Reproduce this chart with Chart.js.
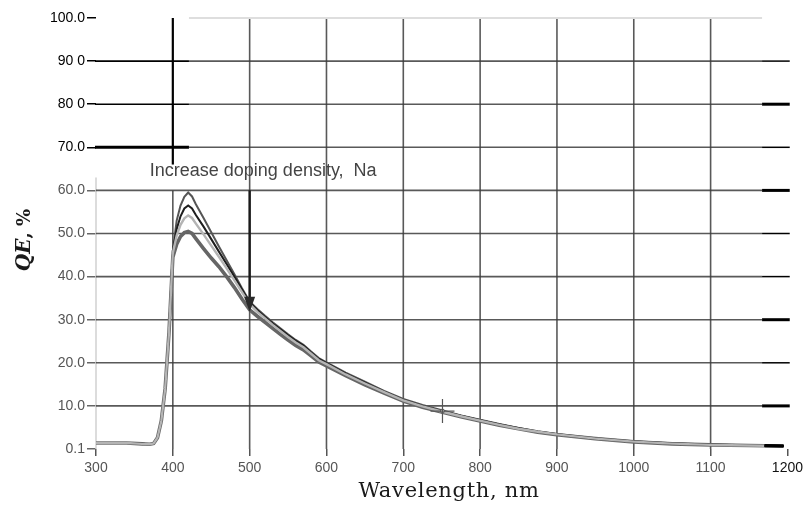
<!DOCTYPE html>
<html>
<head>
<meta charset="utf-8">
<script src="https://cdn.jsdelivr.net/npm/chart.js@4.4.1/dist/chart.umd.min.js"></script>
<style>
  html, body { margin: 0; padding: 0; background: #fff; }
</style>
</head>
<body>
<canvas id="qeChart" width="807" height="506"></canvas>
<script>
// wavelength grid (nm) shared by all QE curves
const wavelength = [300, 320, 340, 360, 370, 375, 380, 385, 390, 395,
  400, 405, 410, 415, 420, 425, 430, 440, 450, 460, 470, 480, 490, 500,
  510, 520, 530, 540, 550, 560, 570, 580, 590, 600,
  625, 650, 675, 700, 725, 750, 775, 800, 825, 850, 875, 900,
  950, 1000, 1050, 1100, 1150, 1170, 1195];

// QE (%) for increasing doping density
const qeLow = [1.4, 1.4, 1.4, 1.2, 1.1, 1.3, 2.6, 6.5, 14, 27,
  46, 53, 56.5, 58.5, 59.5, 58.6, 56.8, 53.6, 50.3, 47, 43.8, 40.6, 37.3, 34.2,
  32.5, 30.9, 29.4, 28.0, 26.6, 25.3, 24.2, 22.6, 21.1, 20.1,
  17.7, 15.6, 13.5, 11.6, 10.2, 9.0, 7.8, 6.8, 5.8, 4.9, 4.1, 3.5,
  2.5, 1.8, 1.35, 1.05, 0.85, 0.75, 0.7];
const qeMid1 = [1.4, 1.4, 1.4, 1.2, 1.1, 1.3, 2.6, 6.5, 14, 27,
  46, 51, 54, 55.8, 56.5, 55.8, 54.3, 51.6, 48.7, 45.8, 42.9, 40, 37, 34,
  32.2, 30.6, 29.1, 27.8, 26.4, 25.1, 24.0, 22.4, 20.9, 19.9,
  17.5, 15.4, 13.3, 11.4, 10.0, 8.8, 7.7, 6.7, 5.7, 4.8, 4.0, 3.4,
  2.4, 1.75, 1.3, 1.0, 0.85, 0.75, 0.7];
const qeMid2 = [1.4, 1.4, 1.4, 1.2, 1.1, 1.3, 2.6, 6.5, 14, 27,
  45.5, 49.5, 52, 53.5, 54.2, 53.6, 52.3, 49.8, 47.2, 44.6, 41.9, 39.2, 36.4, 33.6,
  31.8, 30.3, 28.8, 27.4, 26.0, 24.7, 23.6, 22.1, 20.6, 19.7,
  17.3, 15.2, 13.2, 11.3, 9.9, 8.7, 7.6, 6.6, 5.6, 4.7, 4.0, 3.4,
  2.4, 1.7, 1.25, 0.95, 0.8, 0.75, 0.7];
const qeHigh = [1.4, 1.4, 1.4, 1.2, 1.1, 1.3, 2.6, 6.5, 14, 27,
  44.5, 47.5, 49.3, 50.2, 50.5, 50, 48.8, 46.5, 44.3, 42.3, 40, 37.5, 34.8, 32.3,
  30.8, 29.4, 28.0, 26.6, 25.3, 24.0, 23.0, 21.6, 20.2, 19.3,
  17.0, 14.9, 13.0, 11.1, 9.7, 8.6, 7.5, 6.5, 5.5, 4.7, 3.9, 3.3,
  2.4, 1.65, 1.2, 0.95, 0.8, 0.75, 0.7];

// cursor marker on the curve
const markerX = [751];
const markerY = [8.8];

const xTicks = [300, 400, 500, 600, 700, 800, 900, 1000, 1100, 1200];
const xTickLabels = ['300', '400', '500', '600', '700', '800', '900', '1000', '1100', '1200'];
const yTicks = [0, 10, 20, 30, 40, 50, 60, 70, 80, 90, 100];
const yTickLabels = ['0.1', '10.0', '20.0', '30.0', '40.0', '50.0', '60.0', '70.0', '80 0', '90 0', '100.0'];

const noteText = 'Increase doping density,  Na';

const gridColor = 'rgba(60,60,60,0.85)';
const rightMarkWidths = [0, 3, 1.5, 3, 1.5, 1.5, 3, 1.5, 3, 1.5, 0];
const gridEnd = 1167;
const blockEdge = 421;

function toPoints(vals) {
  return wavelength.map((w, i) => ({ x: w, y: vals[i] }));
}

// past the grid the trace is drawn black
const tailBlack = color => ({
  borderColor: c => (c.p0.parsed.x >= 1170 ? '#000' : color)
});

function seg(ctx, x1, y1, x2, y2, color, width) {
  ctx.strokeStyle = color;
  ctx.lineWidth = width;
  ctx.beginPath();
  ctx.moveTo(x1, y1);
  ctx.lineTo(x2, y2);
  ctx.stroke();
}

const gridPlugin = {
  id: 'qeGrid',
  beforeDatasetsDraw(chart) {
    const { ctx, scales: { x, y } } = chart;
    ctx.save();
    ctx.lineCap = 'butt';

    // vertical lines
    xTicks.forEach(v => {
      if (v === 300 || v === 1200) return;
      const px = x.getPixelForValue(v);
      if (v === 400) {
        seg(ctx, px, y.getPixelForValue(100), px, y.getPixelForValue(66), '#000', 2.2);
        seg(ctx, px, y.getPixelForValue(60), px, y.getPixelForValue(0), gridColor, 1.6);
      } else {
        seg(ctx, px, y.getPixelForValue(100), px, y.getPixelForValue(0), gridColor, 1.6);
      }
    });
    const x0 = x.getPixelForValue(300);
    seg(ctx, x0, y.getPixelForValue(63), x0, y.getPixelForValue(0), '#d0d0d0', 1.5);

    // horizontal lines
    const xb = x.getPixelForValue(blockEdge);
    const xe = x.getPixelForValue(gridEnd);
    yTicks.forEach((v, i) => {
      if (v === 0) return;
      const py = y.getPixelForValue(v);
      if (v === 100) {
        seg(ctx, xb, py, xe, py, '#dedede', 2);
        return;
      }
      if (v > 60) {
        seg(ctx, x0 - 1, py, xb, py, '#000', v === 70 ? 3 : 1.6);
        seg(ctx, xb, py, xe, py, gridColor, 1.6);
      } else {
        seg(ctx, x0, py, xe, py, gridColor, 1.6);
      }
      seg(ctx, xe, py, x.getPixelForValue(1203), py, '#000', rightMarkWidths[i]);
    });
    ctx.restore();
  },
  afterDatasetsDraw(chart) {
    const { ctx, scales: { x, y } } = chart;
    ctx.save();
    // doping arrow
    const ax = x.getPixelForValue(500);
    const top = y.getPixelForValue(60);
    const base = y.getPixelForValue(35.3);
    const tip = y.getPixelForValue(31.8);
    seg(ctx, ax, top, ax, base + 2, '#1a1a1a', 2.4);
    ctx.fillStyle = '#2a2a2a';
    ctx.beginPath();
    ctx.moveTo(ax - 5.5, base);
    ctx.lineTo(ax + 5.5, base);
    ctx.lineTo(ax, tip);
    ctx.closePath();
    ctx.fill();

    // note
    ctx.font = '18px "Liberation Sans", Arial, sans-serif';
    ctx.fillStyle = '#444';
    ctx.textBaseline = 'middle';
    ctx.textAlign = 'left';
    ctx.fillText(noteText, x.getPixelForValue(370), y.getPixelForValue(64.6));
    ctx.restore();
  },
  afterDraw(chart) {
    const { ctx } = chart;
    ctx.save();
    ctx.fillStyle = '#1a1a1a';
    ctx.textBaseline = 'middle';
    ctx.textAlign = 'center';
    ctx.font = '21px "DejaVu Serif", serif';
    ctx.letterSpacing = '0.7px';
    ctx.fillText('Wavelength, nm', 449, 492);
    ctx.letterSpacing = '0px';

    // y title: italic QE followed by ", %"
    ctx.translate(25, 240);
    ctx.rotate(-Math.PI / 2);
    ctx.textAlign = 'left';
    const f1 = 'italic bold 20px "DejaVu Serif", serif';
    const f2 = 'bold 18px "DejaVu Serif", serif';
    ctx.font = f1;
    const w1 = ctx.measureText('QE').width;
    ctx.font = f2;
    const w2 = ctx.measureText(', %').width;
    const sx = -(w1 + w2) / 2;
    ctx.font = f1;
    ctx.fillText('QE', sx, 0);
    ctx.font = f2;
    ctx.fillText(', %', sx + w1, 0);
    ctx.restore();
  }
};

const ctx = document.getElementById('qeChart').getContext('2d');

const lineBase = { tension: 0, pointRadius: 0, fill: false };

new Chart(ctx, {
  type: 'line',
  data: {
    datasets: [
      Object.assign({}, lineBase, { data: toPoints(qeMid2), borderColor: '#b4b4b4', borderWidth: 2.4, order: 1, segment: tailBlack('#b4b4b4') }),
      Object.assign({}, lineBase, { data: toPoints(qeMid1), borderColor: '#1e1e1e', borderWidth: 2, order: 2, segment: tailBlack('#1e1e1e') }),
      Object.assign({}, lineBase, { data: toPoints(qeLow), borderColor: '#555', borderWidth: 2, order: 3, segment: tailBlack('#555') }),
      Object.assign({}, lineBase, { data: toPoints(qeHigh), borderColor: '#666', borderWidth: 3.6, order: 4, segment: tailBlack('#666') }),
      {
        data: markerX.map((v, i) => ({ x: v, y: markerY[i] })),
        showLine: false, pointStyle: 'cross', pointRadius: 12,
        pointBorderColor: '#555', pointBorderWidth: 1.2, order: 0
      },
      {
        data: markerX.map((v, i) => ({ x: v, y: markerY[i] })),
        showLine: false, pointStyle: 'circle', pointRadius: 2,
        pointBackgroundColor: '#fff', pointBorderColor: '#555', pointBorderWidth: 1, order: 0
      }
    ]
  },
  options: {
    responsive: false,
    animation: false,
    events: [],
    layout: { padding: { top: 18, right: 19, left: 0, bottom: 0 } },
    plugins: { legend: { display: false }, tooltip: { enabled: false } },
    scales: {
      x: {
        type: 'linear',
        min: 300,
        max: 1200,
        afterBuildTicks: s => { s.ticks = xTicks.map(v => ({ value: v })); },
        afterFit: s => { s.height = 57; },
        border: { display: false },
        grid: { drawOnChartArea: false, drawTicks: true, tickLength: 7, color: '#555', lineWidth: 1.5 },
        ticks: {
          autoSkip: false,
          maxRotation: 0,
          padding: 4,
          font: { family: '"Liberation Sans", Arial, sans-serif', size: 14 },
          color: c => (c.index === xTicks.length - 1 ? '#111' : '#555'),
          callback: (v, i) => xTickLabels[i]
        }
      },
      y: {
        min: 0,
        max: 100,
        afterBuildTicks: s => { s.ticks = yTicks.map(v => ({ value: v })); },
        afterFit: s => { s.width = 96; },
        border: { display: false },
        grid: {
          drawOnChartArea: false, drawTicks: true, tickLength: 9, lineWidth: 1.5,
          color: c => (c.tick && c.tick.value >= 70 ? '#000' : '#666')
        },
        ticks: {
          padding: 2,
          font: { family: '"Liberation Sans", Arial, sans-serif', size: 14 },
          color: c => (c.tick && c.tick.value >= 70 ? '#000' : '#555'),
          callback: (v, i) => yTickLabels[i]
        }
      }
    }
  },
  plugins: [gridPlugin]
});
</script>
</body>
</html>
